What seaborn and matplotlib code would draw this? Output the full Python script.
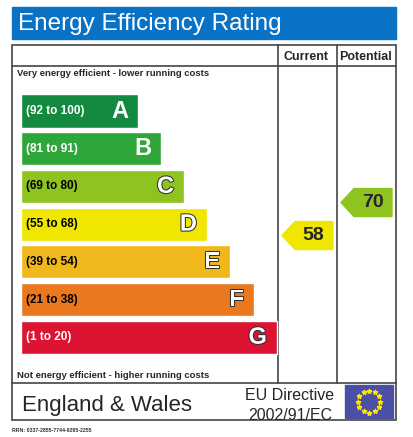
import matplotlib
matplotlib.use("Agg")
import matplotlib.pyplot as plt
import matplotlib.patheffects as pe
from matplotlib.patches import Rectangle, Polygon
import seaborn as sns
import numpy as np
import pandas as pd

bands = ["A", "B", "C", "D", "E", "F", "G"]
ranges = ["(92 to 100)", "(81 to 91)", "(69 to 80)", "(55 to 68)", "(39 to 54)", "(21 to 38)", "(1 to 20)"]
bar_len = [117, 140, 163, 186, 209, 233, 256]
colors = ["#138a3f", "#2ea63a", "#8fc31f", "#f0e600", "#f0b81a", "#e9781f", "#dc1431"]
label_colors = ["white", "white", "black", "black", "black", "black", "white"]
band_min = [92, 81, 69, 55, 39, 21, 1]
current = 58
potential = 70

sns.set_theme(style="white")
plt.rcParams['font.family'] = ['Liberation Sans', 'DejaVu Sans']
W, H = 413, 437
fig = plt.figure(figsize=(W/100, H/100), dpi=100)

ov = fig.add_axes([0, 0, 1, 1])
ov.set_xlim(0, W); ov.set_ylim(H, 0); ov.axis("off")

ov.add_patch(Rectangle((12, 7), 384, 32, color="#0a72c4"))
ov.text(18, 24, "Energy Efficiency Rating", color="white", fontsize=17.5, va="center")
ov.add_patch(Rectangle((12, 45), 384, 375, fill=False, ec="#444444", lw=1.2))
for y in (66, 383):
    ov.plot([12, 396], [y, y], color="#444444", lw=1.2)
for x in (278, 337):
    ov.plot([x, x], [45, 383], color="#444444", lw=1.2)
ov.text(306, 57, "Current", fontsize=9, weight="bold", ha="center", va="center")
ov.text(366, 57, "Potential", fontsize=9, weight="bold", ha="center", va="center")
ov.text(17, 73, "Very energy efficient - lower running costs", fontsize=6.8, weight="bold", va="center")
ov.text(17, 375, "Not energy efficient - higher running costs", fontsize=6.8, weight="bold", va="center")
ov.text(22, 406, "England & Wales", fontsize=16, va="center")
ov.text(290, 396, "EU Directive", fontsize=11.5, ha="center", va="center")
ov.text(290, 415, "2002/91/EC", fontsize=11.5, ha="center", va="center")
ov.add_patch(Rectangle((345, 385), 48, 33, color="#4b4fa6"))
ang = np.linspace(0, 2*np.pi, 13)[:-1]
ov.scatter(369 + 11*np.cos(ang), 401.5 + 11*np.sin(ang), marker="*", s=10, color="#ffe600", zorder=5)
ov.text(12, 431, "RRN: 0337-2855-7744-9295-2255", fontsize=3.8, weight="bold", color="#333333", va="center")

top, step = 111, 37.7
bx = fig.add_axes([21/W, 1 - (top + 6.5*step)/H, 300/W, 7*step/H])
df = pd.DataFrame({"band": bands, "len": bar_len})
sns.barplot(data=df, x="len", y="band", hue="band", palette=colors, orient="h",
            width=0.88, ax=bx, legend=False, saturation=1)
bx.set_xlim(0, 300); bx.axis("off")
for i, (b, r, L) in enumerate(zip(bands, ranges, bar_len)):
    bx.text(5, i, r, color=label_colors[i], fontsize=8.5, weight="bold", va="center")
    t = bx.text(L - 10, i, b, color="white", fontsize=17, weight="bold", va="center", ha="right")
    if i >= 2:
        t.set_path_effects([pe.withStroke(linewidth=1.5, foreground="#333333")])

def band_index(v):
    for i, m in enumerate(band_min):
        if v >= m:
            return i
    return 6

def arrow(v, x0, x1):
    i = band_index(v)
    hi = 100 if i == 0 else band_min[i-1] - 1
    y = top + (i - 0.5 + (hi - v + 0.5)/(hi - band_min[i] + 1)) * step + 2
    h = 14
    ov.add_patch(Polygon([(x0, y), (x0 + 13, y - h), (x1, y - h), (x1, y + h), (x0 + 13, y + h)],
                         color=colors[i]))
    ov.text((x0 + x1)/2 + 6, y, str(v), fontsize=14, weight="bold", ha="center", va="center")

arrow(current, 282, 333)
arrow(potential, 341, 392)

fig.savefig("out.png", dpi=100)
